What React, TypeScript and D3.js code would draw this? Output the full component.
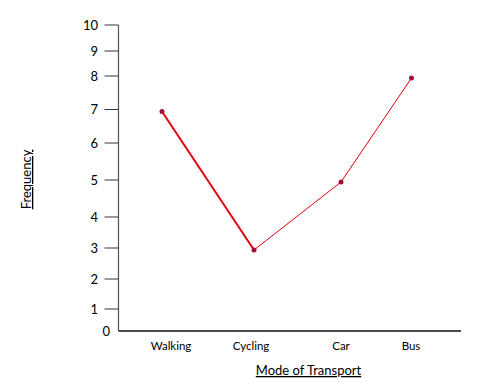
import React from "react";
import * as d3 from "d3";

const categories = ["Walking", "Cycling", "Car", "Bus"];
const frequency = [7, 3, 5, 8];
const yTicks = [0, 1, 2, 3, 4, 5, 6, 7, 8, 9, 10];
const xTitle = "Mode of Transport";
const yTitle = "Frequency";

export default function App() {
  const W = 481, H = 387;
  // hand-drawn axis: tick positions are irregular, so the scale is piecewise
  const y = d3.scaleLinear().domain(yTicks).range([331, 309, 279, 248, 217, 180, 143, 109.5, 76, 51, 25]);
  const x = d3.scaleOrdinal<string, number>().domain(categories).range([162, 254, 341, 411.5]);
  const xLabel = d3.scaleOrdinal<string, number>().domain(categories).range([171, 251, 341, 411]);
  const axisX = 118.5;
  const axisRight = 461;
  const pts = categories.map((c, i) => [x(c), y(frequency[i]) + 2] as [number, number]);
  const line = d3.line();
  const font = "Lato, 'Open Sans', sans-serif";

  return (
    <svg width={W} height={H} style={{ position: "absolute", left: 0, top: 0 }}>
      <rect width={W} height={H} fill="#fff" />
      <line x1={axisX} x2={axisX} y1={y(10)} y2={y(0)} stroke="#555" strokeWidth={1.2} />
      <line x1={axisX} x2={axisRight} y1={y(0)} y2={y(0)} stroke="#111" strokeWidth={1.3} />
      {yTicks.map((t) => (
        <g key={t}>
          {t > 0 && <line x1={104.5} x2={axisX} y1={y(t)} y2={y(t)} stroke="#333" strokeWidth={1} />}
          <text x={t === 0 ? 110 : 98} y={y(t)} dy="0.36em" textAnchor="end" fontFamily={font} fontSize={13} fill="#000">
            {t}
          </text>
        </g>
      ))}
      {categories.map((c) => (
        <text key={c} x={xLabel(c)} y={350} textAnchor="middle" fontFamily={font} fontSize={11.5} fill="#000">
          {c}
        </text>
      ))}
      <text x={308.5} y={375} textAnchor="middle" fontFamily={font} fontSize={13} fill="#000" textDecoration="underline">
        {xTitle}
      </text>
      <text transform="translate(31,179.5) rotate(-90)" textAnchor="middle" fontFamily={font} fontSize={13} fill="#000" textDecoration="underline">
        {yTitle}
      </text>
      {pts.slice(1).map((p, i) => (
        <path key={i} d={line([pts[i], p]) || ""} fill="none" stroke="#e3000f" strokeWidth={i === 0 ? 2 : 1} />
      ))}
      {pts.map((p, i) => (
        <circle key={i} cx={p[0]} cy={p[1]} r={2.5} fill="#9e1030" />
      ))}
    </svg>
  );
}
